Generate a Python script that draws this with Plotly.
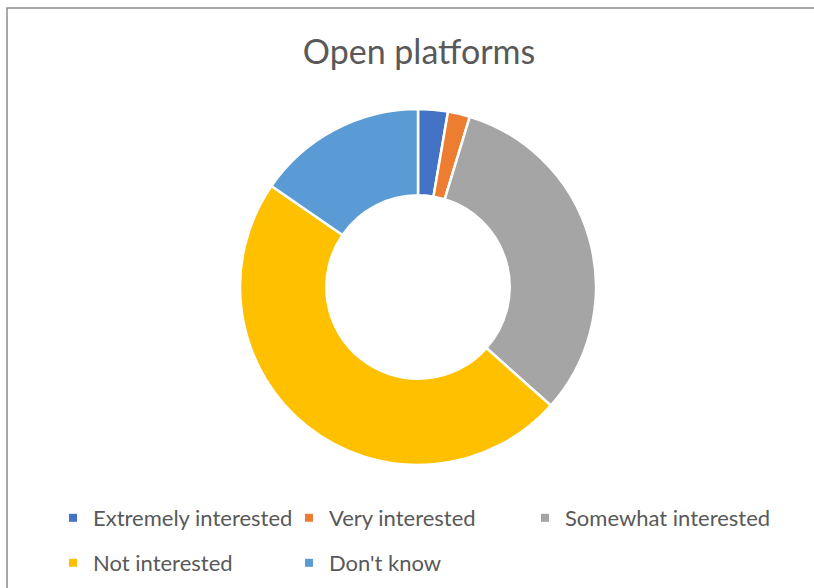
import plotly.graph_objects as go


# === Data ===

labels = ["Extremely interested", "Very interested", "Somewhat interested",
          "Not interested", "Don't know"]
values = [2.7, 2.0, 31.9, 48.0, 15.4]
colors = ["#4472C4", "#ED7D31", "#A5A5A5", "#FFC000", "#5B9BD5"]
legend_rows = [0, 0, 0, 1, 1]
legend_cols = [0, 1, 2, 0, 1]

FONT = "Lato"
TEXT_GREY = "#595959"


# === Donut ===

fig = go.Figure()
fig.add_trace(go.Pie(
    labels=labels,
    values=values,
    hole=0.515,
    sort=False,
    direction="clockwise",
    rotation=0,
    textinfo="none",
    hoverinfo="label+percent",
    showlegend=False,
    marker=dict(colors=colors, line=dict(color="#FFFFFF", width=2.5)),
    domain=dict(x=[240 / 814, 596 / 814], y=[1 - 465 / 588, 1 - 109 / 588]),
))


# === Legend (one small legend per entry, laid out on Excel's grid) ===

legend_layout = {}
for i, (name, color) in enumerate(zip(labels, colors)):
    key = "legend" if i == 0 else f"legend{i + 1}"
    fig.add_trace(go.Scatter(
        x=[None], y=[None],
        mode="markers",
        name=name,
        marker=dict(symbol="square", size=8, color=color),
        legend=key,
        hoverinfo="skip",
    ))
    legend_layout[key] = dict(
        orientation="h",
        xanchor="left",
        yanchor="middle",
        x=(53 + 236 * legend_cols[i]) / 814,
        y=1 - (518 + 45 * legend_rows[i]) / 588,
        itemwidth=30,
        font=dict(family=FONT, size=22, color=TEXT_GREY),
        bgcolor="rgba(0,0,0,0)",
    )

fig.update_layout(
    width=814,
    height=588,
    margin=dict(l=0, r=0, t=0, b=0),
    paper_bgcolor="#FFFFFF",
    plot_bgcolor="#FFFFFF",
    title=dict(
        text="Open platforms",
        x=419 / 814,
        xanchor="center",
        y=1 - 52 / 588,
        yanchor="middle",
        font=dict(family=FONT, size=34, color=TEXT_GREY),
    ),
    xaxis=dict(visible=False),
    yaxis=dict(visible=False),
    shapes=[dict(
        type="rect", xref="paper", yref="paper",
        x0=7 / 814, x1=1.02, y0=-0.02, y1=1 - 8 / 588,
        line=dict(color="#8C8C8C", width=1.5),
    )],
    **legend_layout,
)

# drop the browser's default body margin so the figure sits at the page origin
fig.write_html("out.html", config={"displayModeBar": False},
               post_script="document.body.style.margin = '0';")
